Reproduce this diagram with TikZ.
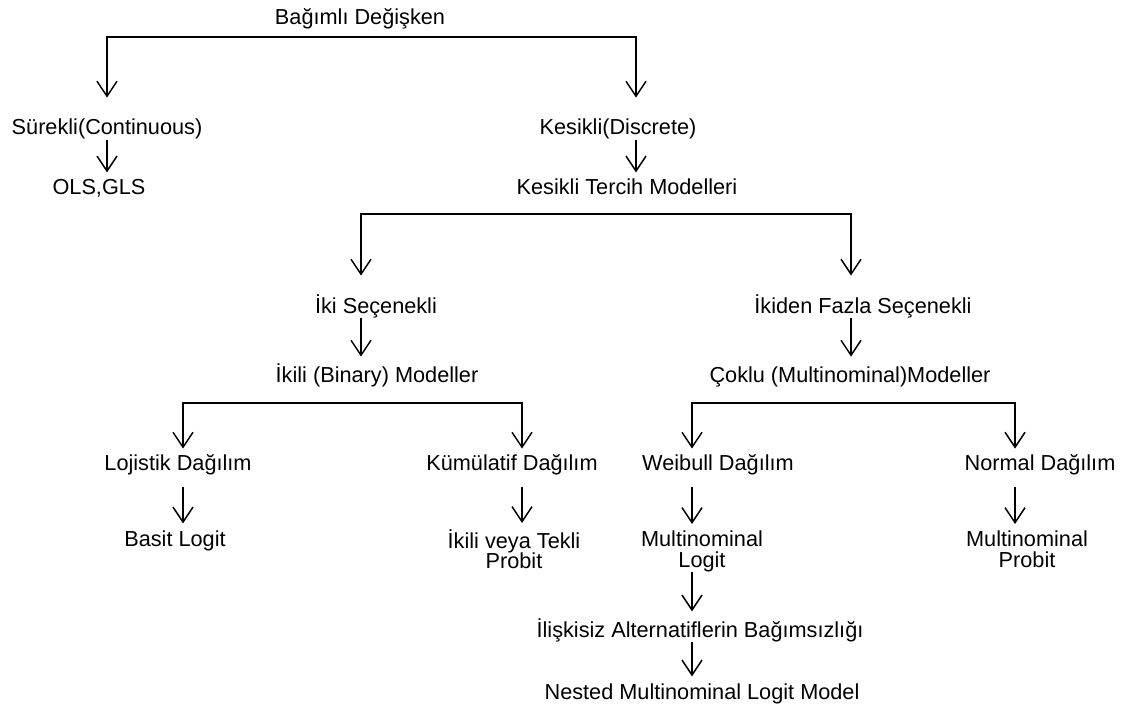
\documentclass[tikz,border=0pt]{standalone}
\usepackage{fontspec}
\setmainfont{Liberation Sans}
\usetikzlibrary{arrows.meta}
\tikzset{
  lbl/.style={anchor=base, inner sep=0pt, text height=8.1pt, text depth=2.2pt,
    font=\fontsize{10.85pt}{13pt}\selectfont},
  twoline/.style={anchor=north, inner sep=0pt, align=center,
    font=\fontsize{10.85pt}{13pt}\selectfont},
  arr/.style={line width=0.75pt, -{Straight Barb[length=7.5pt,width=10pt]}, shorten >=3pt},
  fork/.style={line width=0.75pt,
    {Straight Barb[length=7.5pt,width=10pt]}-{Straight Barb[length=7.5pt,width=10pt]}},
}
\begin{document}
\begin{tikzpicture}[x=0.5pt, y=-0.5pt]  % bagimli degisken agaci
    \useasboundingbox (0,0) rectangle (1144,711);
    % ust seviye
    \node[lbl] (dep) at (360,25) {Bağımlı Değişken};
    \node[lbl] (cont) at (107,135) {Sürekli(Continuous)};
    \node[lbl] (disc) at (618,135) {Kesikli(Discrete)};
    \node[lbl] (ols) at (99,195) {OLS,GLS};
    \node[lbl] (ktm) at (627,195) {Kesikli Tercih Modelleri};
    \coordinate (c1l) at (107,37);
    \coordinate (c1r) at (636,37);
    \draw[fork, shorten <=10.4pt, shorten >=10.4pt] (cont.north -| c1l) -- (c1l) -- (c1r) -- (disc.north -| c1r);
    \draw[arr] (cont.south) -- (cont.south |- ols.north);
    \draw[arr] (disc.south -| c1r) -- (ktm.north -| c1r);
    % secenek sayisi
    \node[lbl] (iki) at (376,313) {İki Seçenekli};
    \node[lbl] (fazla) at (863,313) {İkiden Fazla Seçenekli};
    \node[lbl] (binary) at (377,382) {İkili (Binary) Modeller};
    \node[lbl] (multi) at (850,382) {Çoklu (Multinominal)Modeller};
    \coordinate (c2l) at (361,214);
    \coordinate (c2r) at (851,214);
    \draw[fork, shorten <=10.4pt, shorten >=10.4pt] (iki.north -| c2l) -- (c2l) -- (c2r) -- (fazla.north -| c2r);
    \draw[arr, shorten >=4.4pt] (iki.south -| c2l) -- (binary.north -| c2l);
    \draw[arr, shorten >=4.4pt] (fazla.south -| c2r) -- (multi.north -| c2r);
    % dagilimlar
    \node[lbl] (loj) at (178,470) {Lojistik Dağılım};
    \node[lbl] (kum) at (512,470) {Kümülatif Dağılım};
    \node[lbl] (wei) at (718,470) {Weibull Dağılım};
    \node[lbl] (nor) at (1040,470) {Normal Dağılım};
    \coordinate (c3l) at (183,403);
    \coordinate (c3r) at (522,403);
    \coordinate (c4l) at (692,403);
    \coordinate (c4r) at (1015,403);
    \draw[fork, shorten <=2.4pt, shorten >=2.4pt] (loj.north -| c3l) -- (c3l) -- (c3r) -- (kum.north -| c3r);
    \draw[fork, shorten <=2.4pt, shorten >=2.4pt] (wei.north -| c4l) -- (c4l) -- (c4r) -- (nor.north -| c4r);
    % modeller
    \node[lbl] (basit) at (175,546) {Basit Logit};
    \node[twoline] (probit) at (514,529) {İkili veya Tekli\\[-2.7pt]Probit};
    \node[twoline] (mnl) at (702,530) {Multinominal\\[-2.5pt]Logit};
    \node[twoline] (mnp) at (1027,530) {Multinominal\\[-2.5pt]Probit};
    \draw[arr, shorten <=6pt] (loj.south -| c3l) -- (basit.north -| c3l);
    \draw[arr, shorten <=6pt] (kum.south -| c3r) -- (probit.north -| c3r);
    \draw[arr, shorten <=6pt] (wei.south -| c4l) -- (mnl.north -| c4l);
    \draw[arr, shorten <=6pt] (nor.south -| c4r) -- (mnp.north -| c4r);
    % IIA ve nested
    \node[lbl] (iia) at (700,637) {İlişkisiz Alternatiflerin Bağımsızlığı};
    \node[lbl] (nested) at (702,699) {Nested Multinominal Logit Model};
    \draw[arr, shorten >=4.5pt] (mnl.south -| c4l) -- (iia.north -| c4l);
    \draw[arr] (iia.south -| c4l) -- (nested.north -| c4l);
\end{tikzpicture}
\end{document}
